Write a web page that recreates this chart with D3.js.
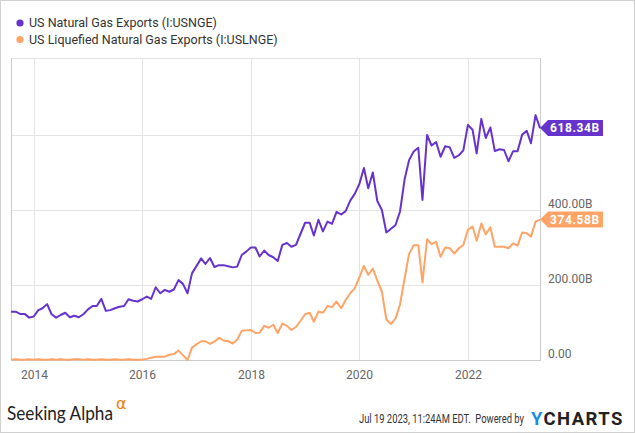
<!DOCTYPE html>
<html><head><meta charset="utf-8">
<script src="https://cdn.jsdelivr.net/npm/d3@7"></script>
<style>body{margin:0;background:#fff;} svg{display:block;}</style>
</head><body><svg id="c" width="635" height="433"></svg>
<script>
// ---- data ----
const firstMonth = [2013, 8]; // Aug 2013, monthly
const natGasExports = [129,129,123,123,113,116,133,138,149,122,113,120,126,114,118,114,122,135,144,144,163,131,133,138,
142,144,162,158,156,162,169,163,194,178,187,182,188,213,203,178,231,251,271,256,272,248,253,253,
250,247,249,280,289,300,300,276,292,280,274,264,307,312,302,307,336,366,366,332,374,343,369,363,
395,388,397,425,443,469,512,458,500,424,400,340,350,360,396,482,533,556,566,427,600,572,581,542,
570,567,539,546,559,627,614,551,643,592,620,557,562,560,530,557,557,601,611,578,653,618.34];
const lngExports = [1,2,1,1,2,1,2,1,1,2,1,2,1,1,2,2,1,2,1,1,2,1,1,2,
1,1,2,1,1,1,3,6,9,9,9,14,16,25,13,0,33,42,50,50,43,49,59,52,
50,44,54,78,79,80,72,73,91,86,94,72,97,91,80,88,104,122,126,102,129,126,144,141,
156,138,160,178,191,220,251,227,244,212,182,108,96,111,148,218,283,306,306,207,322,309,315,275,
300,298,284,298,307,347,356,318,364,335,354,302,302,302,298,311,305,340,338,329,369,374.58];
const seriesNames = ["US Natural Gas Exports (I:USNGE)", "US Liquefied Natural Gas Exports (I:USLNGE)"];
const seriesColors = ["#6633cc", "#ffa366"];
const yearTicks = [2014, 2016, 2018, 2020, 2022];
const gridValues = [200, 400, 600];
const yTickValues = [0, 200, 400];
const yTickLabels = ["0.00", "200.00B", "400.00B"];

// ---- build ----
const svg = d3.select("#c");
const W = 635, H = 433;
const dates = natGasExports.map((_, i) => new Date(firstMonth[0], firstMonth[1] - 1 + i, 1));
const x = d3.scaleTime().domain([dates[0], dates[dates.length - 1]]).range([11, 540]);
const y = d3.scaleLinear().domain([0, 800]).range([360, 60]);
const plotTop = 58, plotBottom = 360, plotLeft = 11, plotRight = 540;
const font = "Roboto, 'Open Sans', sans-serif";

// outer border
svg.append("rect").attr("x", 0.5).attr("y", 0.5).attr("width", W - 1).attr("height", H - 1)
  .attr("fill", "#fff").attr("stroke", "#d0d0d0");

// legend
seriesNames.forEach((n, i) => {
  const cy = 23 + i * 16.5;
  svg.append("circle").attr("cx", 20).attr("cy", cy).attr("r", 3.6).attr("fill", seriesColors[i]);
  svg.append("text").attr("x", 29).attr("y", cy + 4.3).attr("font-family", font).attr("font-size", 12.5)
    .attr("fill", "#333").text(n);
});

// grid
const g = svg.append("g");
gridValues.forEach(v => {
  g.append("line").attr("x1", plotLeft).attr("x2", plotRight).attr("y1", Math.round(y(v)) + 0.5).attr("y2", Math.round(y(v)) + 0.5)
    .attr("stroke", "#e3e3e3");
});
g.append("line").attr("x1", plotLeft).attr("x2", plotRight).attr("y1", plotTop + 0.5).attr("y2", plotTop + 0.5).attr("stroke", "#e3e3e3");
yearTicks.forEach(yr => {
  const xx = Math.round(x(new Date(yr, 0, 1))) + 0.5;
  g.append("line").attr("x1", xx).attr("x2", xx).attr("y1", plotTop).attr("y2", plotBottom).attr("stroke", "#e3e3e3");
  svg.append("text").attr("x", xx).attr("y", 379).attr("text-anchor", "middle").attr("font-family", font)
    .attr("font-size", 12).attr("fill", "#666").text(yr);
});
// borders
g.append("line").attr("x1", plotLeft + 0.5).attr("x2", plotLeft + 0.5).attr("y1", plotTop).attr("y2", plotBottom).attr("stroke", "#cccccc");
g.append("line").attr("x1", plotRight + 0.5).attr("x2", plotRight + 0.5).attr("y1", plotTop).attr("y2", plotBottom).attr("stroke", "#cccccc");
g.append("line").attr("x1", plotLeft).attr("x2", plotRight + 1).attr("y1", plotBottom + 0.5).attr("y2", plotBottom + 0.5).attr("stroke", "#cccccc");

// y labels
yTickValues.forEach((v, i) => {
  svg.append("text").attr("x", 548).attr("y", y(v) - 2).attr("font-family", font).attr("font-size", 12)
    .attr("fill", "#666").text(yTickLabels[i]);
});

// lines
const line = d3.line().x((d, i) => x(dates[i])).y(d => y(d));
[lngExports, natGasExports].forEach((s, k) => {
  const ci = k === 0 ? 1 : 0;
  svg.append("path").datum(s).attr("d", line).attr("fill", "none").attr("stroke", seriesColors[ci])
    .attr("stroke-width", 2).attr("stroke-linejoin", "round");
});

// end badges
[[natGasExports, 0], [lngExports, 1]].forEach(([s, ci]) => {
  const v = s[s.length - 1];
  const cy = y(v), x0 = plotRight;
  svg.append("path").attr("d", `M${x0},${cy} L${x0 + 8},${cy - 8} L${x0 + 63},${cy - 8} L${x0 + 63},${cy + 8} L${x0 + 8},${cy + 8} Z`)
    .attr("fill", seriesColors[ci]);
  svg.append("text").attr("x", x0 + 10).attr("y", cy + 4.3).attr("font-family", font).attr("font-size", 12)
    .attr("font-weight", "bold").attr("letter-spacing", 0.6).attr("fill", "#fff").text(d3.format(".2f")(v) + "B");
});

// footer
svg.append("text").attr("x", 7).attr("y", 420).attr("font-family", "Lato, 'Open Sans', sans-serif")
  .attr("font-size", 18.5).attr("fill", "#222").attr("textLength", 106).attr("lengthAdjust", "spacingAndGlyphs")
  .text("Seeking Alpha");
svg.append("text").attr("x", 116).attr("y", 409).attr("font-family", "'DejaVu Sans', sans-serif").attr("font-size", 16)
  .attr("fill", "#f57c00").text("α");
svg.append("text").attr("x", 359).attr("y", 423).attr("font-family", font).attr("font-size", 12)
  .attr("fill", "#333").attr("xml:space", "preserve").attr("textLength", 165).attr("lengthAdjust", "spacingAndGlyphs")
  .text("Jul 19 2023, 11:24AM EDT.  Powered by");
const yc = svg.append("text").attr("x", 531).attr("y", 424.5).attr("font-family", font).attr("font-size", 18.5)
  .attr("font-weight", "bold").attr("letter-spacing", 1.4);
yc.append("tspan").attr("fill", "#1a8fe0").text("Y");
yc.append("tspan").attr("fill", "#222").text("CHARTS");
</script></body></html>
